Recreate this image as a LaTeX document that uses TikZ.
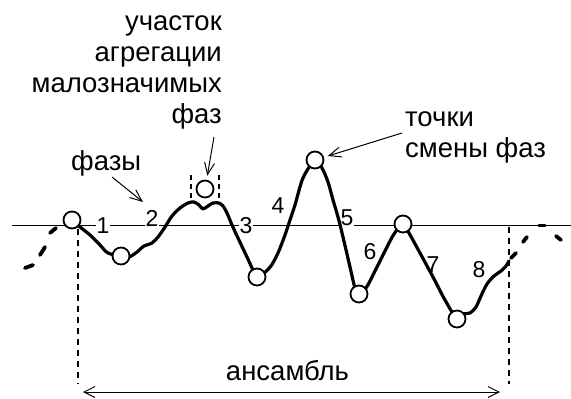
\documentclass[tikz,border=0pt]{standalone}
\usepackage{fontspec}
\setmainfont{Liberation Sans}
\usetikzlibrary{arrows.meta}
\begin{document}
\begin{tikzpicture}[x=1pt,y=-1pt,
  curve/.style={line width=3.2pt, line join=round, line cap=round},
  tailseg/.style={line width=3.8pt, line cap=round},
  axisline/.style={line width=1.2pt},
  guide/.style={line width=1.4pt, dash pattern=on 6pt off 5pt},
  boxguide/.style={line width=1.2pt, dash pattern=on 5pt off 4pt},
  pointer/.style={line width=1pt, -{Straight Barb[length=12pt,width=10pt]}},
  span/.style={line width=1pt, {Straight Barb[length=11pt,width=11pt]}-{Straight Barb[length=11pt,width=11pt]}},
  dot/.style={circle, draw, fill=white, line width=1.8pt, minimum size=17pt, inner sep=0pt},
  num/.style={fill=white, inner sep=1pt, font=\fontsize{23}{26}\selectfont},
  lbl/.style={font=\fontsize{27.5}{31}\selectfont, inner sep=0pt}]

\useasboundingbox (0,0) rectangle (571,399);

% horizontal axis
\draw[axisline] (12,225.5) -- (571,225.5);

% phase numbers (white background breaks the axis)
\node[num] (n1) at (103,226) {1};
\node[num] (n2) at (152,218) {2};
\node[num] (n3) at (246,226) {3};
\node[num] (n4) at (278,206) {4};
\node[num] (n5) at (347,218) {5};
\node[num] (n6) at (370,252) {6};
\node[num] (n7) at (433,265) {7};
\node[num] (n8) at (479,270) {8};

% phase change points
\coordinate (p1) at (72,220);
\coordinate (p2) at (121,256);
\coordinate (p3) at (257,277);
\coordinate (p4) at (315,160);
\coordinate (p5) at (359,294);
\coordinate (p6) at (403,224);
\coordinate (p7) at (457,319);
\coordinate (pagg) at (205,189);

% the signal
\draw[curve] plot[smooth, tension=0.5] coordinates {
  (p1) (80,227) (90,235) (100,245) (108,253) (p2) (129,257) (137,252)
  (144,246) (152,243) (158,237) (165,227) (172,216) (180,208) (188,203)
  (194,202) (199,205) (203,209) (208,206) (213,203) (219,203) (223,206)
  (227,213) (232,225) (238,238) (247,257) (p3) (264,273) (271,266)
  (278,253) (285,235) (290,220) (295,205) (303,178) (p4) (322,168)
  (328,182) (333,200) (338,217) (343,237) (350,267) (355,288) (p5)
  (366,288) (372,277) (378,265) (386,249) (394,234) (p6) (409,233)
  (420,253) (433,277) (445,300) (p7) (463,314) (470,313) (476,307)
  (481,296) (487,284) (494,276) (501,271) (506,266) (509,261)};

% dashed continuation on both sides
\draw[tailseg] (25,268) -- (33,265);
\draw[tailseg] (40,255) -- (45,247);
\draw[tailseg] (50,233) -- (56,228);
\draw[tailseg] (511,258) -- (516,253);
\draw[tailseg] (523,242) -- (527,237);
\draw[tailseg] (539,225.5) -- (545,225.5);
\draw[tailseg] (556,236) -- (561,240);

% ensemble bounds
\draw[guide] (78,229) -- (78,384);
\draw[guide] (509,227) -- (509,384);

% aggregation bounds
\draw[boxguide] (191,175) -- (191,203);
\draw[boxguide] (219,175) -- (219,203);

% circles
\node[dot] (c1) at (p1) {};
\node[dot] (c2) at (p2) {};
\node[dot] (c3) at (p3) {};
\node[dot] (c4) at (p4) {};
\node[dot] (c5) at (p5) {};
\node[dot] (c6) at (p6) {};
\node[dot] (c7) at (p7) {};
\node[dot] (cagg) at (pagg) {};

% labels (base anchor of a multi-line node sits on its last line)
\node[lbl, align=right, anchor=base east] (aggtext) at (222,123)
  {участок\\агрегации\\малозначимых\\фаз};
\node[lbl, align=left, anchor=base west] (chtext) at (405,157)
  {точки\\смены фаз};
\node[lbl, anchor=base west] (phtext) at (71,170) {фазы};
\node[lbl, anchor=base] (enstext) at (287.5,380) {ансамбль};

% pointers
\coordinate (aggtail) at (214,137);
\draw[pointer, shorten >=4pt] (aggtail) -- (cagg);
\coordinate (phtail) at (112,177);
\coordinate (phhead) at (143,202);
\draw[pointer] (phtail) -- (phhead);
\coordinate (chtail) at (402,133);
\draw[pointer, shorten >=4pt] (chtail) -- (c4);

% ensemble span
\coordinate (spanl) at (83,392);
\coordinate (spanr) at (500,392);
\draw[span] (spanl) -- (spanr);

\end{tikzpicture}
\end{document}
